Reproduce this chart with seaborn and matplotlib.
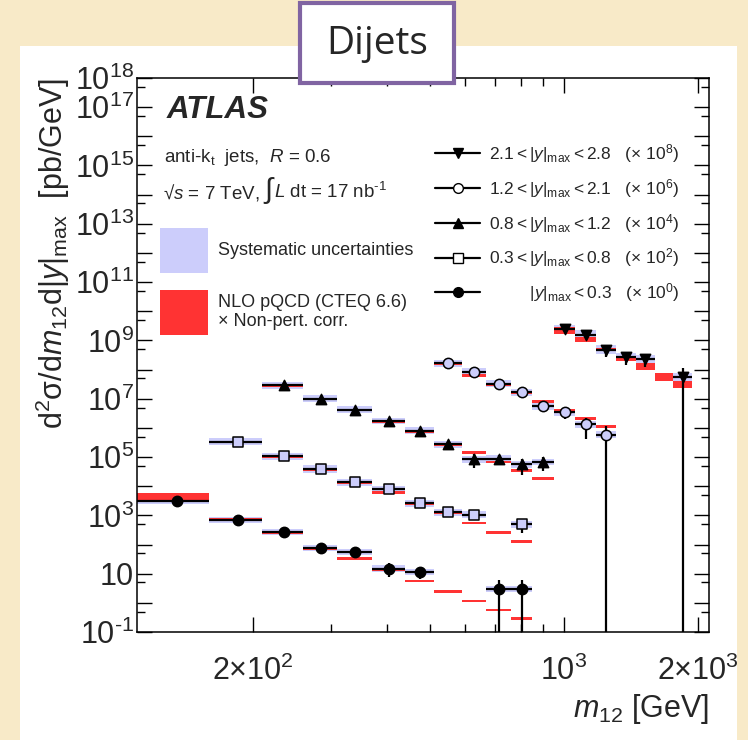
import numpy as np
import pandas as pd
import matplotlib
matplotlib.use("Agg")
import matplotlib.pyplot as plt
import seaborn as sns
from matplotlib.patches import Rectangle
from matplotlib.lines import Line2D
from matplotlib.ticker import FixedLocator, FixedFormatter, NullFormatter
from matplotlib.offsetbox import TextArea, HPacker, AnchoredOffsetbox

# ---------------- data ----------------
mass_edges = [110, 160, 210, 260, 310, 370, 440, 510, 590, 670, 760, 850,
              950, 1060, 1180, 1310, 1450, 1600, 1760, 1940, 2120]

series_names = ["2.1<|y|max<2.8", "1.2<|y|max<2.1", "0.8<|y|max<1.2",
                "0.3<|y|max<0.8", "|y|max<0.3"]
series_scale = [1e8, 1e6, 1e4, 1e2, 1e0]
series_first_bin = [12, 7, 2, 1, 0]
series_syst = [0.40, 0.32, 0.30, 0.32, 0.28]

# measured cross sections [pb/GeV] (unscaled), NaN = no measurement
xs_y2128 = [25.1, 15.8, 4.79, 2.69, 2.34, np.nan, 0.55]
xs_y1221 = [162, 83.2, 32.4, 16.6, 5.5, 3.47, 1.32, 0.59]
xs_y0812 = [2884, 1000, 427, 170, 81.3, 27.5, 8.3, 8.7, 5.6, 6.8]
xs_y0308 = [3388, 1047, 389, 135, 77.6, 25.7, 12.6, 10.7, np.nan, 4.9]
xs_y0003 = [3200, 690, 263, 78, 57, 15, 11.5, np.nan, np.nan, 2.9, 2.9]

stat_y2128 = [1.0, 1.5, 2.0, 1.28, 1.14, np.nan, 0.56]
stat_y1221 = [5, 4, 3, 2, 2.0, 1.4, 0.92, 0.6]
stat_y0812 = [30, 15, 8, 5, 3.5, 2.5, 4.0, 3.0, 3.2, 3.5]
stat_y0308 = [30, 15, 8, 4, 3, 2, 1.5, 2.5, np.nan, 2.5]
stat_y0003 = [40, 15, 8, 4, 4, 7.5, 5.0, np.nan, np.nan, 3.0, 3.0]

# NLO pQCD x non-pert. corrections (unscaled) and relative uncertainty
th_y2128 = [21.9, 10.7, 5.0, 2.45, 1.32, 0.575, 0.316]
th_y1221 = [158, 61.7, 31.6, 16.2, 8.3, 4.07, 2.09, 1.10]
th_y0812 = [2754, 977, 417, 166, 74.1, 26.9, 14.1, 6.9, 3.47, 1.82]
th_y0308 = [3311, 1047, 380, 132, 60.3, 25.1, 12.3, 5.37, 2.57, 1.26]
th_y0003 = [4200, 720, 245, 74, 33, 13.8, 5.5, 2.45, 1.17, 0.575, 0.288]

thu_y2128 = [0.32, 0.26, 0.12, 0.22, 0.32, 0.38, 0.32]
thu_y1221 = [0.12, 0.12, 0.12, 0.12, 0.12, 0.12, 0.12, 0.12]
thu_y0812 = [0.10, 0.10, 0.10, 0.10, 0.10, 0.10, 0.10, 0.10, 0.10, 0.10]
thu_y0308 = [0.10, 0.10, 0.10, 0.10, 0.10, 0.10, 0.10, 0.10, 0.10, 0.10]
thu_y0003 = [0.36, 0.10, 0.10, 0.10, 0.10, 0.10, 0.10, 0.10, 0.10, 0.10, 0.10]

xs_all = [xs_y2128, xs_y1221, xs_y0812, xs_y0308, xs_y0003]
stat_all = [stat_y2128, stat_y1221, stat_y0812, stat_y0308, stat_y0003]
th_all = [th_y2128, th_y1221, th_y0812, th_y0308, th_y0003]
thu_all = [thu_y2128, thu_y1221, thu_y0812, thu_y0308, thu_y0003]

legend_labels = [
    r"$2.1 < |y|_{\rm max} < 2.8\ \ \ (\times\ 10^{8})$",
    r"$1.2 < |y|_{\rm max} < 2.1\ \ \ (\times\ 10^{6})$",
    r"$0.8 < |y|_{\rm max} < 1.2\ \ \ (\times\ 10^{4})$",
    r"$0.3 < |y|_{\rm max} < 0.8\ \ \ (\times\ 10^{2})$",
    r"$\hspace{2.8}|y|_{\rm max} < 0.3\ \ \ (\times\ 10^{0})$",
]

ytick_vals = [10.0 ** k for k in range(-1, 19)]
ytick_labeled = {18: r"$10^{18}$", 17: r"$10^{17}$", 15: r"$10^{15}$",
                 13: r"$10^{13}$", 11: r"$10^{11}$", 9: r"$10^{9}$",
                 7: r"$10^{7}$", 5: r"$10^{5}$", 3: r"$10^{3}$",
                 1: "10", -1: r"$10^{\text{-}1}$"}
xtick_major = [200, 1000, 2000]
xtick_major_labels = [r"$2{\times}10^{2}$", r"$10^{3}$", r"$2{\times}10^{3}$"]
xtick_minor = [300, 400, 500, 600, 700, 800, 900]

# ---------------- build table ----------------
rows = []
for s, name in enumerate(series_names):
    f0 = series_first_bin[s]
    for i in range(len(xs_all[s])):
        lo, hi = mass_edges[f0 + i], mass_edges[f0 + i + 1]
        k = series_scale[s]
        rows.append(dict(series=name, lo=lo, hi=hi, mid=0.5 * (lo + hi),
                         xs=xs_all[s][i] * k, stat=stat_all[s][i] * k,
                         th=th_all[s][i] * k, thu=thu_all[s][i],
                         syst=series_syst[s]))
df = pd.DataFrame(rows)

# ---------------- style ----------------
sns.set_style("ticks")
plt.rcParams["font.family"] = ["Liberation Sans", "DejaVu Sans"]
plt.rcParams["mathtext.fontset"] = "custom"
plt.rcParams["mathtext.rm"] = "Liberation Sans"
plt.rcParams["mathtext.it"] = "Liberation Sans:italic"
plt.rcParams["mathtext.bf"] = "Liberation Sans:bold"

PARCH = "#f8eac8"
LAV = "#cccdfb"
RED = "#ff3333"
PURPLE = "#8064a2"

fig = plt.figure(figsize=(7.48, 7.40), dpi=100)
fig.patch.set_facecolor(PARCH)
fig.add_artist(Rectangle((20 / 748, 0), 717 / 748, (740 - 46) / 740,
                         transform=fig.transFigure, facecolor="white",
                         edgecolor="none", zorder=-10))
ax = fig.add_axes([137 / 748, 1 - 632 / 740, (709 - 137) / 748, (632 - 78) / 740])
ax.set_facecolor("white")
ax.set_xscale("log")
ax.set_yscale("log")
ax.set_xlim(mass_edges[0], mass_edges[-1])
ax.set_ylim(1e-1, 1e18)

# systematic bands
d = df.dropna(subset=["xs"])
ax.bar(d["lo"], d["xs"] * (1 + d["syst"]) - d["xs"] / (1 + d["syst"]),
       width=d["hi"] - d["lo"], bottom=d["xs"] / (1 + d["syst"]), align="edge",
       color=LAV, edgecolor="none", zorder=1)
# theory bands
ax.bar(df["lo"], df["th"] * (1 + df["thu"]) - df["th"] / (1 + df["thu"]),
       width=df["hi"] - df["lo"], bottom=df["th"] / (1 + df["thu"]), align="edge",
       color=RED, edgecolor="none", zorder=2)
# x error bars (bin width) and statistical errors
ax.hlines(d["xs"], d["lo"], d["hi"], color="black", lw=1.6, zorder=3)
ylo = np.where(d["xs"] - d["stat"] > 0, d["xs"] - d["stat"], 1e-5)
ax.vlines(d["mid"], ylo, d["xs"] + d["stat"], color="black", lw=1.6, zorder=3)

marker_styles = {
    "2.1<|y|max<2.8": dict(marker="v", color="black"),
    "1.2<|y|max<2.1": dict(marker="o", color=LAV),
    "0.8<|y|max<1.2": dict(marker="^", color="black"),
    "0.3<|y|max<0.8": dict(marker="s", color=LAV),
    "|y|max<0.3": dict(marker="o", color="black"),
}
for name in series_names:
    sub = d[d["series"] == name]
    st = marker_styles[name]
    sns.scatterplot(data=sub, x="mid", y="xs", marker=st["marker"], color=st["color"],
                    edgecolor="black", linewidth=1.1, s=55, ax=ax, zorder=5,
                    legend=False)

# ---------------- axes ----------------
ax.yaxis.set_major_locator(FixedLocator(ytick_vals))
ax.yaxis.set_major_formatter(FixedFormatter(
    [ytick_labeled.get(k, "") for k in range(-1, 19)]))
ax.yaxis.set_minor_locator(FixedLocator([5 * 10.0 ** k for k in range(-1, 18)]))
ax.yaxis.set_minor_formatter(NullFormatter())
ax.xaxis.set_major_locator(FixedLocator(xtick_major))
ax.xaxis.set_major_formatter(FixedFormatter(xtick_major_labels))
ax.xaxis.set_minor_locator(FixedLocator(xtick_minor))
ax.xaxis.set_minor_formatter(NullFormatter())
ax.tick_params(which="both", direction="in", top=True, right=True, color="black",
               width=1.0)
ax.tick_params(which="major", length=11)
ax.tick_params(which="minor", length=5.5)
ax.tick_params(axis="y", which="major", labelsize=22, pad=2)
ax.tick_params(axis="x", which="major", labelsize=22, pad=17)
for sp in ax.spines.values():
    sp.set_linewidth(1.1)
    sp.set_color("black")

ax.set_xlabel(r"$m_{12}$ [GeV]", fontsize=22, loc="right", labelpad=3.5)
ax.set_ylabel(r"d$^2$σ/d$m_{12}$d$|y|_{\rm max}$  [pb/GeV]", fontsize=22,
              loc="top", labelpad=2)

# ---------------- texts & legends ----------------
ax.text(0.052, 0.942, "ATLAS", transform=ax.transAxes, fontsize=22.5,
        fontweight="bold", fontstyle="italic", va="center", ha="left")
ax.text(0.048, 0.857, r"anti-k$_{\rm t}$  jets,  $R$ = 0.6", transform=ax.transAxes,
        fontsize=13.5, va="center", ha="left")

part_a = HPacker(children=[
    TextArea(r"√$s$ = 7 TeV,", textprops=dict(fontsize=13.5)),
    TextArea("∫", textprops=dict(fontsize=21)),
], align="baseline", pad=0, sep=4)
line2 = HPacker(children=[
    part_a,
    TextArea(r"$L$ dt = 17 nb$^{\text{-}1}$", textprops=dict(fontsize=13.5)),
], align="baseline", pad=0, sep=0.5)
ax.add_artist(AnchoredOffsetbox(loc="center left", child=line2, pad=0, borderpad=0,
                                frameon=False, bbox_to_anchor=(0.045, 0.797),
                                bbox_transform=ax.transAxes))

# left legend (uncertainty bands)
ax.add_patch(Rectangle((0.0402, 0.648), 0.0839, 0.0812, transform=ax.transAxes,
                       facecolor=LAV, edgecolor="none", zorder=6))
ax.add_patch(Rectangle((0.0402, 0.536), 0.0839, 0.0812, transform=ax.transAxes,
                       facecolor=RED, edgecolor="none", zorder=6))
ax.text(0.1416, 0.6895, "Systematic uncertainties", transform=ax.transAxes,
        fontsize=13, va="center", ha="left")
ax.text(0.1416, 0.5776, "NLO pQCD (CTEQ 6.6)\n× Non-pert. corr.", transform=ax.transAxes,
        fontsize=13, va="center", ha="left", linespacing=1.1)

# right legend (rapidity bins)
h_right = []
for name in series_names:
    st = marker_styles[name]
    h_right.append(Line2D([], [], color="black", lw=1.6, marker=st["marker"],
                          markerfacecolor=("white" if st["color"] == LAV else "black"),
                          markeredgecolor="black", markersize=7, markeredgewidth=1.0))
leg2 = ax.legend(h_right, legend_labels, loc="upper left", bbox_to_anchor=(0.521, 0.884),
                 frameon=False, fontsize=12.5, handlelength=2.6, handletextpad=0.5,
                 labelspacing=0.68, borderpad=0, borderaxespad=0)

# ---------------- title box ----------------
fig.add_artist(Rectangle((300 / 748, 1 - 83 / 740), 154 / 748, 80 / 740,
                         transform=fig.transFigure, facecolor="white",
                         edgecolor=PURPLE, linewidth=3, zorder=10))
fig.text(377 / 748, 1 - 44 / 740, "Dijets", fontsize=28, family="Open Sans",
         ha="center", va="center", zorder=11)

fig.savefig("out.png", dpi=100, facecolor=fig.get_facecolor())
